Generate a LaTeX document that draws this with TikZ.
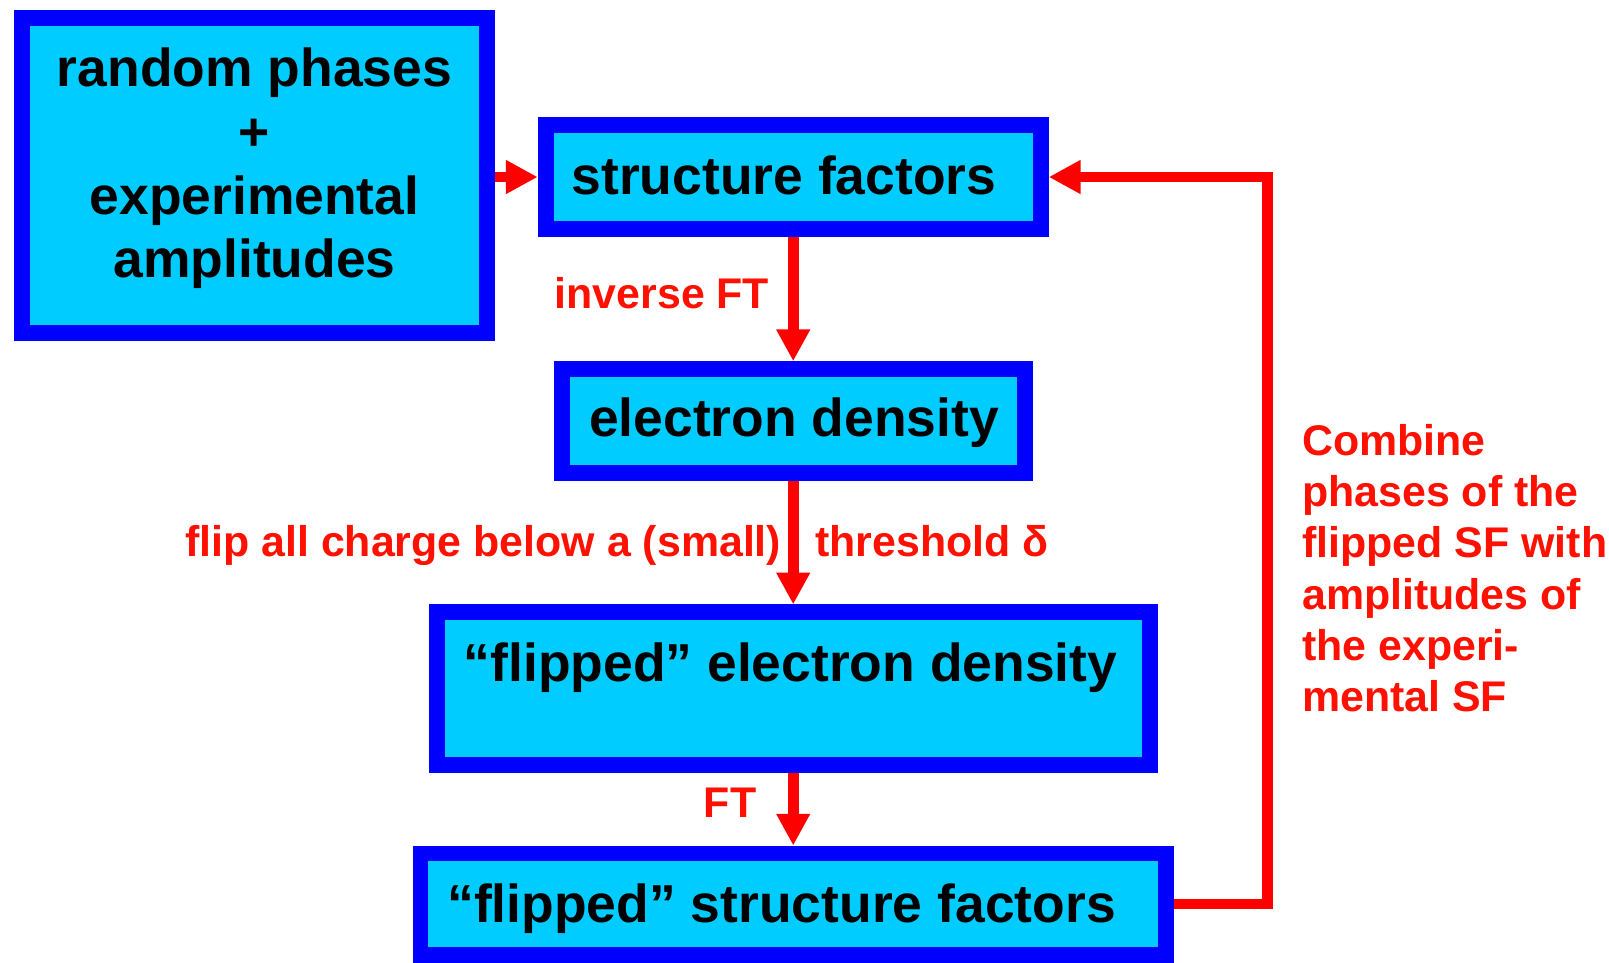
\documentclass[tikz,border=0pt]{standalone}
\usepackage{fontspec}
\setmainfont{Liberation Sans}
\usetikzlibrary{arrows.meta}
\definecolor{boxfill}{RGB}{0,204,255}
\definecolor{boxline}{RGB}{0,0,255}
\definecolor{arrred}{RGB}{255,0,0}
\definecolor{labred}{RGB}{255,16,0}
\newcommand\boxfont{\fontsize{52.1pt}{62.2pt}\selectfont\bfseries}
\newcommand\labfont{\fontsize{41.8pt}{50pt}\selectfont\bfseries}
\tikzset{
  flowbox/.style={draw=boxline, fill=boxfill, line width=15.5pt, outer sep=7.75pt,
    rectangle, inner sep=0pt},
  boxtext/.style={inner sep=0pt, outer sep=0pt, text=black, font=\boxfont},
  redlab/.style={inner sep=0pt, outer sep=0pt, text=labred, font=\labfont},
  flowarrow/.style={draw=arrred, line width=10.5pt,
    -{Triangle[length=31pt,width=31pt]}},
}
\begin{document}
\begin{tikzpicture}[x=1pt,y=-1pt]
\useasboundingbox (0,0) rectangle (1568,938);
% boxes
\node[flowbox, minimum width=452.5pt, minimum height=306.5pt] (b1) at (248,171) {};
\node[flowbox, minimum width=482.5pt, minimum height=101.5pt] (b2) at (773,172.5) {};
\node[flowbox, minimum width=451.5pt, minimum height=101.5pt] (b3) at (773.5,410.5) {};
\node[flowbox, minimum width=694.5pt, minimum height=148.5pt] (b4) at (773,671) {};
\node[flowbox, minimum width=726.5pt, minimum height=98.5pt] (b5) at (773,881) {};
% box texts
\node[boxtext, align=center] (t1) at (248,164) {random phases\\+\\experimental\\amplitudes};
\node[boxtext, anchor=base west] (t2) at (557,189.4) {structure factors};
\node[boxtext, anchor=base west] (t3) at (574,425) {electron density};
\node[boxtext, anchor=base west] (t4) at (452,664.4) {“flipped” electron density};
\node[boxtext, anchor=base west] (t5) at (436,898.9) {“flipped” structure factors};
% red labels
\node[redlab, anchor=base west] (l1) at (540.5,300.5) {inverse FT};
\node[redlab, anchor=base west] (l2) at (180.5,542.5) {flip all charge below a (small)};
\node[redlab, anchor=base west] (l3) at (794.5,542.5) {threshold δ};
\node[redlab, anchor=base west] (l4) at (686,796.6) {FT};
\node[redlab, anchor=north west, align=left] (l5) at (1269,413.2)
  {Combine\\phases of the\\flipped SF with\\amplitudes of\\the experi-\\mental SF};
% connectors
\draw[flowarrow, line width=10pt] (b1.east |- b2.west) -- (b2.west);
\draw[flowarrow] (b2.south) -- (b2.south |- b3.north);
\draw[flowarrow] (b3.south -| b2.south) -- (b2.south |- b4.north);
\draw[flowarrow] (b4.south) -- (b5.north);
\coordinate (fbx) at (1235.5,500);
\draw[flowarrow] (b5.east) -| (fbx) |- (b2.east);
\end{tikzpicture}
\end{document}
